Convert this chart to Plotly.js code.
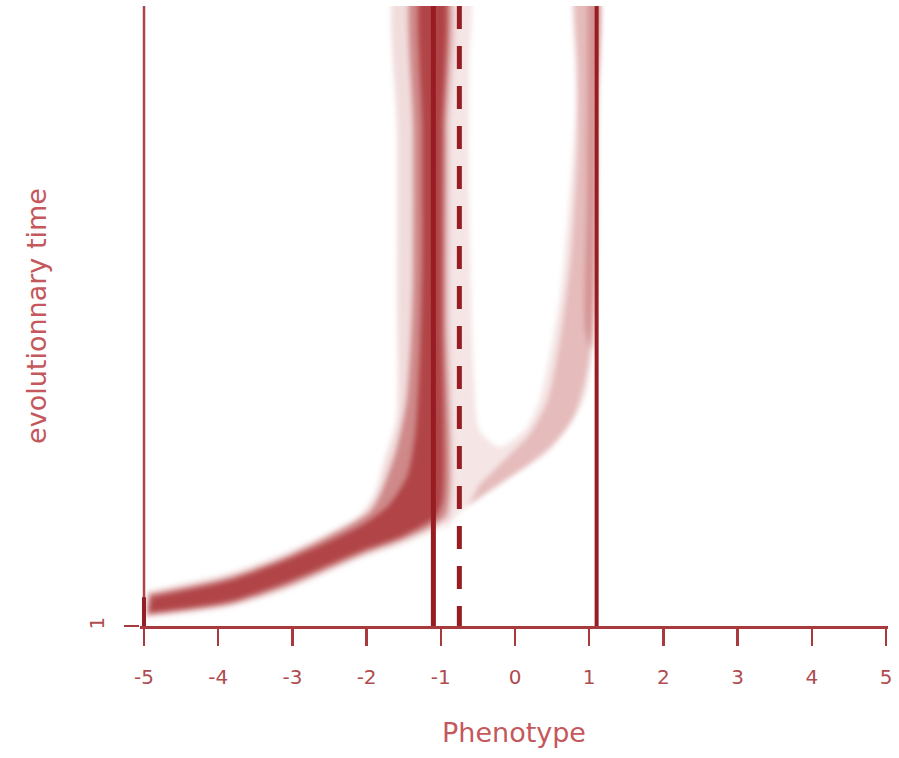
<!DOCTYPE html>
<html><head><meta charset="utf-8">
<script src="https://cdn.plot.ly/plotly-3.0.1.min.js"></script>
<style>html,body{margin:0;padding:0;background:#fff}#chart{width:899px;height:758px}</style>
</head><body><div id="chart"></div>
<script>
// ---- axis values ----
const xTicks = [-5, -4, -3, -2, -1, 0, 1, 2, 3, 4, 5];
const yTickVals = [1];
const yTickText = ['1'];
const timeMax = 100;

// ---- reference phenotype lines ----
const leftBoundary = -5;
const branchALine = -1.1;
const dashedLine = -0.75;
const branchBLine = 1.1;

// ---- density outlines (phenotype x, evolutionary time t) ----
// main branch, faint envelope
const mainFaintX = [-4.98,-3.85,-3.04,-2.06,-1.56,-1.02,-0.88,-0.88,-0.88,-0.88,-1.59,-1.59,-1.59,-1.60,-1.76,-1.90,-2.10,-3.04,-3.85,-4.96];
const mainFaintT = [2.3,4.0,6.9,11.9,13.9,16.7,18.7,50,80,104,104,80,53.1,33.9,27.5,21.9,18.7,13.0,9.5,6.6];
// main branch, medium density
const mainMidX = [-4.96,-3.85,-3.04,-2.06,-1.56,-1.15,-0.94,-0.94,-0.94,-0.94,-1.37,-1.37,-1.38,-1.46,-1.60,-1.79,-1.96,-3.04,-3.85,-4.93];
const mainMidT = [2.8,4.5,7.55,12.5,14.6,16.8,18.7,50,80,104,104,80,53.1,37.1,29.1,22.7,19.2,12.3,8.8,6.1];
// main branch, dense core
const mainCoreX = [-4.93,-3.85,-3.04,-2.06,-1.56,-1.22,-1.06,-0.98,-0.98,-0.98,-0.98,-1.25,-1.25,-1.25,-1.28,-1.34,-1.45,-1.70,-2.06,-3.04,-3.85,-4.90];
const mainCoreT = [3.2,5.0,8.2,13.1,15.2,17.3,18.7,21.1,50,80,104,104,80,60,45,32,25,20.3,17.1,11.7,8.2,5.6];
// second branch, pale envelope (U shape)
const branchBPaleX = [-0.95,-0.75,-0.35,0.19,0.69,0.96,1.07,1.10,1.11,1.11,0.80,0.81,0.83,0.73,0.60,0.33,0.13,-0.21,-0.48,-0.55,-0.62,-0.62,-0.62,-0.94,-0.94,-0.94];
const branchBPaleT = [16.3,19.0,22.7,27.0,32.3,38.2,53.1,70,85,104,104,92,85,69,53.1,37.1,32.3,29.6,32.3,40.3,70,90,104,104,60,18.7];
// second branch, medium density
const branchBMidX = [-0.62,-0.08,0.46,0.80,1.00,1.08,1.10,1.10,0.84,0.84,0.84,0.76,0.63,0.44,0.19,-0.14,-0.48];
const branchBMidT = [20.3,24.6,29.1,34.7,43.5,69.0,85,104,104,90,77.0,61.0,48.3,37.1,31.5,27.5,23.5];
// second branch, denser strip next to its line
const branchBCoreX = [0.98,1.11,1.11,1.10,1.03,0.95,0.97,0.98];
const branchBCoreT = [104,104,80,61,45.1,48.3,69,85];
// initial population at the left boundary
const startT = [1, 5.6];

function poly(x, t, color) {
  return {x: x, y: t, type: 'scatter', mode: 'lines', fill: 'toself',
          fillcolor: color, line: {width: 0, color: color, shape: 'spline', smoothing: 0.7},
          hoverinfo: 'skip', showlegend: false};
}
function vline(x0, width, color, dash, t0, t1) {
  return {x: [x0, x0], y: [t1, t0], type: 'scatter', mode: 'lines',
          line: {width: width, color: color, dash: dash || 'solid'}, hoverinfo: 'skip', showlegend: false};
}

const lineCol = '#971d22';
const axisCol = '#a8393d';
const data = [
  poly(mainFaintX, mainFaintT, 'rgba(180,60,60,0.18)'),
  poly(branchBPaleX, branchBPaleT, 'rgba(190,80,80,0.15)'),
  poly(branchBMidX, branchBMidT, 'rgba(185,70,70,0.26)'),
  poly(branchBCoreX, branchBCoreT, 'rgba(175,55,55,0.3)'),
  poly(mainMidX, mainMidT, 'rgba(170,45,45,0.48)'),
  poly(mainCoreX, mainCoreT, 'rgba(160,30,35,0.64)'),
  vline(leftBoundary, 2.5, '#ad4448', null, 1, timeMax),
  vline(leftBoundary, 4, '#951f24', null, startT[0], startT[1]),
  vline(branchALine, 5, lineCol, null, 1, timeMax),
  vline(dashedLine, 5, lineCol, '23px,17px', 1, timeMax),
  vline(branchBLine, 4, lineCol, null, 1, timeMax)
];

const layout = {
  width: 899, height: 758,
  margin: {l: 140, r: 11, t: 6, b: 132},
  paper_bgcolor: '#ffffff', plot_bgcolor: '#ffffff',
  showlegend: false,
  hovermode: false,
  xaxis: {
    range: [-5.054, 5.027], tickvals: xTicks, ticktext: xTicks.map(String),
    ticks: 'outside', ticklen: 17, tickwidth: 2.5, tickcolor: axisCol,
    showline: true, linecolor: axisCol, linewidth: 3,
    showgrid: false, zeroline: false,
    tickfont: {family: 'DejaVu Sans', size: 20, color: '#b04c50'},
    ticklabelstandoff: 14,
    title: {text: 'Phenotype', font: {family: 'DejaVu Sans', size: 27, color: '#c4585c'}, standoff: 36}
  },
  yaxis: {
    range: [1, timeMax], tickvals: yTickVals, ticktext: yTickText,
    ticks: 'outside', ticklen: 15, tickwidth: 2.5, tickcolor: axisCol,
    showline: false, showgrid: false, zeroline: false,
    tickangle: -90,
    tickfont: {family: 'DejaVu Sans', size: 20, color: '#b04c50'},
    ticklabelstandoff: 12,
    title: {text: 'evolutionnary time', font: {family: 'DejaVu Sans', size: 27, color: '#c4585c'}, standoff: 30}
  }
};

Plotly.newPlot('chart', data, layout, {displayModeBar: false, staticPlot: true}).then(function (gd) {
  // soften the density envelopes like the original heat-map rendering
  gd.querySelectorAll('path.js-fill').forEach(function (p) { p.style.filter = 'blur(2.5px)'; });
});
</script>
</body></html>
